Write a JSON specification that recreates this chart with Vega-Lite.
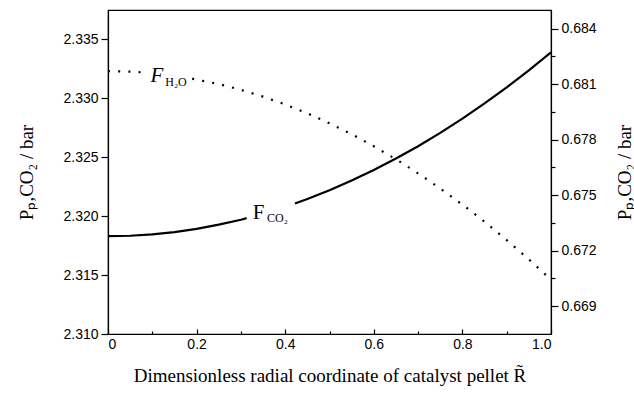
{
  "$schema": "https://vega.github.io/schema/vega-lite/v6.json",
  "width": 443,
  "height": 324,
  "autosize": "none",
  "padding": {"left": 108, "top": 10, "right": 83, "bottom": 62},
  "background": "white",
  "config": {
    "view": {"stroke": "black", "strokeWidth": 1.2},
    "axis": {
      "domainColor": "black", "tickColor": "black", "labelColor": "black", "titleColor": "black",
      "labelFont": "Liberation Sans", "labelFontSize": 14,
      "titleFont": "Liberation Serif", "titleFontSize": 19, "titleFontWeight": "normal",
      "grid": false, "domainWidth": 1.2, "tickWidth": 1.2
    }
  },
  "datasets": {
    "co2": [
      {"x": 0, "y": 2.3183, "seg": "a"},
      {"x": 0.05, "y": 2.31834, "seg": "a"},
      {"x": 0.1, "y": 2.31846, "seg": "a"},
      {"x": 0.15, "y": 2.31865, "seg": "a"},
      {"x": 0.2, "y": 2.31892, "seg": "a"},
      {"x": 0.25, "y": 2.31928, "seg": "a"},
      {"x": 0.3, "y": 2.3197, "seg": "a"},
      {"x": 0.313, "y": 2.31983, "seg": "a"},
      {"x": 0.422, "y": 2.32108, "seg": "b"},
      {"x": 0.45, "y": 2.32146, "seg": "b"},
      {"x": 0.5, "y": 2.3222, "seg": "b"},
      {"x": 0.55, "y": 2.32302, "seg": "b"},
      {"x": 0.6, "y": 2.32392, "seg": "b"},
      {"x": 0.65, "y": 2.32489, "seg": "b"},
      {"x": 0.7, "y": 2.32594, "seg": "b"},
      {"x": 0.75, "y": 2.32707, "seg": "b"},
      {"x": 0.8, "y": 2.32828, "seg": "b"},
      {"x": 0.85, "y": 2.32957, "seg": "b"},
      {"x": 0.9, "y": 2.33094, "seg": "b"},
      {"x": 0.95, "y": 2.33238, "seg": "b"},
      {"x": 1.0, "y": 2.3339, "seg": "b"}
    ],
    "h2o": [
      {"x": 0, "y": 0.6817, "seg": "a"},
      {"x": 0.05, "y": 0.68167, "seg": "a"},
      {"x": 0.086, "y": 0.68162, "seg": "a"},
      {"x": 0.19, "y": 0.68129, "seg": "b"},
      {"x": 0.25, "y": 0.681, "seg": "b"},
      {"x": 0.3, "y": 0.68069, "seg": "b"},
      {"x": 0.35, "y": 0.68032, "seg": "b"},
      {"x": 0.4, "y": 0.6799, "seg": "b"},
      {"x": 0.45, "y": 0.67942, "seg": "b"},
      {"x": 0.5, "y": 0.67888, "seg": "b"},
      {"x": 0.55, "y": 0.67829, "seg": "b"},
      {"x": 0.6, "y": 0.67764, "seg": "b"},
      {"x": 0.65, "y": 0.67694, "seg": "b"},
      {"x": 0.7, "y": 0.67618, "seg": "b"},
      {"x": 0.75, "y": 0.67536, "seg": "b"},
      {"x": 0.8, "y": 0.67449, "seg": "b"},
      {"x": 0.85, "y": 0.67356, "seg": "b"},
      {"x": 0.9, "y": 0.67257, "seg": "b"},
      {"x": 0.95, "y": 0.67153, "seg": "b"},
      {"x": 1.0, "y": 0.67043, "seg": "b"}
    ],
    "labels": [
      {"x": 0.1106, "y": 2.33191, "t": "F", "kind": "fi"},
      {"x": 0.1535, "y": 2.33136, "t": "H₂O", "kind": "sub"},
      {"x": 0.3397, "y": 2.3203, "t": "F", "kind": "fu"},
      {"x": 0.3826, "y": 2.31987, "t": "CO₂", "kind": "sub"}
    ]
  },
  "resolve": {"scale": {"y": "independent"}},
  "layer": [
    {
      "layer": [
        {
          "data": {"name": "co2"},
          "mark": {"type": "line", "color": "black", "strokeWidth": 2.2, "clip": true},
          "encoding": {
            "x": {
              "field": "x", "type": "quantitative",
              "title": "Dimensionless radial coordinate of catalyst pellet  R̃",
              "scale": {"domain": [0, 1], "nice": false, "zero": false},
              "axis": {
                "values": [0, 0.1, 0.2, 0.3, 0.4, 0.5, 0.6, 0.7, 0.8, 0.9, 1.0],
                "labelExpr": "round(datum.value*10)%2==1 ? '' : (datum.value==0 ? '0' : format(datum.value, '.1f'))",
                "tickSize": {"condition": {"test": "round(datum.value*10)%2==1", "value": -3}, "value": -5},
                "labelPadding": 8,
                "titlePadding": 15
              }
            },
            "y": {
              "field": "y", "type": "quantitative",
              "title": "Pₚ,CO₂ / bar",
              "scale": {"domain": [2.31, 2.3375], "nice": false, "zero": false},
              "axis": {
                "values": [2.31, 2.3125, 2.315, 2.3175, 2.32, 2.3225, 2.325, 2.3275, 2.33, 2.3325, 2.335],
                "labelExpr": "round(datum.value*400)%2==1 ? '' : format(datum.value, '.3f')",
                "tickSize": {"condition": {"test": "round(datum.value*400)%2==1", "value": 4}, "value": 7},
                "labelPadding": 3,
                "titlePadding": 26
              }
            },
            "detail": {"field": "seg"}
          }
        },
        {
          "data": {"name": "labels"},
          "transform": [{"filter": "datum.kind == 'fi'"}],
          "mark": {"type": "text", "font": "Liberation Serif", "fontStyle": "italic", "fontSize": 21, "align": "center", "baseline": "middle", "color": "black"},
          "encoding": {
            "x": {"field": "x", "type": "quantitative"},
            "y": {"field": "y", "type": "quantitative"},
            "text": {"field": "t"}
          }
        },
        {
          "data": {"name": "labels"},
          "transform": [{"filter": "datum.kind == 'fu'"}],
          "mark": {"type": "text", "font": "Liberation Serif", "fontSize": 21, "align": "center", "baseline": "middle", "color": "black"},
          "encoding": {
            "x": {"field": "x", "type": "quantitative"},
            "y": {"field": "y", "type": "quantitative"},
            "text": {"field": "t"}
          }
        },
        {
          "data": {"name": "labels"},
          "transform": [{"filter": "datum.kind == 'sub'"}],
          "mark": {"type": "text", "font": "Liberation Serif", "fontSize": 12, "align": "center", "baseline": "middle", "color": "black"},
          "encoding": {
            "x": {"field": "x", "type": "quantitative"},
            "y": {"field": "y", "type": "quantitative"},
            "text": {"field": "t"}
          }
        }
      ]
    },
    {
      "data": {"name": "h2o"},
      "mark": {"type": "line", "color": "black", "strokeWidth": 2.2, "strokeDash": [2, 8.2], "strokeCap": "butt", "clip": true},
      "encoding": {
        "x": {"field": "x", "type": "quantitative"},
        "y": {
          "field": "y", "type": "quantitative",
          "scale": {"domain": [0.6675, 0.685], "nice": false, "zero": false},
          "axis": {
            "orient": "right",
            "title": "Pₚ,CO₂ / bar",
            "titleAngle": 270,
            "values": [0.669, 0.6705, 0.672, 0.6735, 0.675, 0.6765, 0.678, 0.6795, 0.681, 0.6825, 0.684],
            "labelExpr": "round(datum.value/0.0015)%2==1 ? '' : format(datum.value, '.3f')",
            "tickSize": {"condition": {"test": "round(datum.value/0.0015)%2==1", "value": 4}, "value": 7},
            "labelPadding": 3,
            "titlePadding": 38
          }
        },
        "detail": {"field": "seg"}
      }
    }
  ]
}
